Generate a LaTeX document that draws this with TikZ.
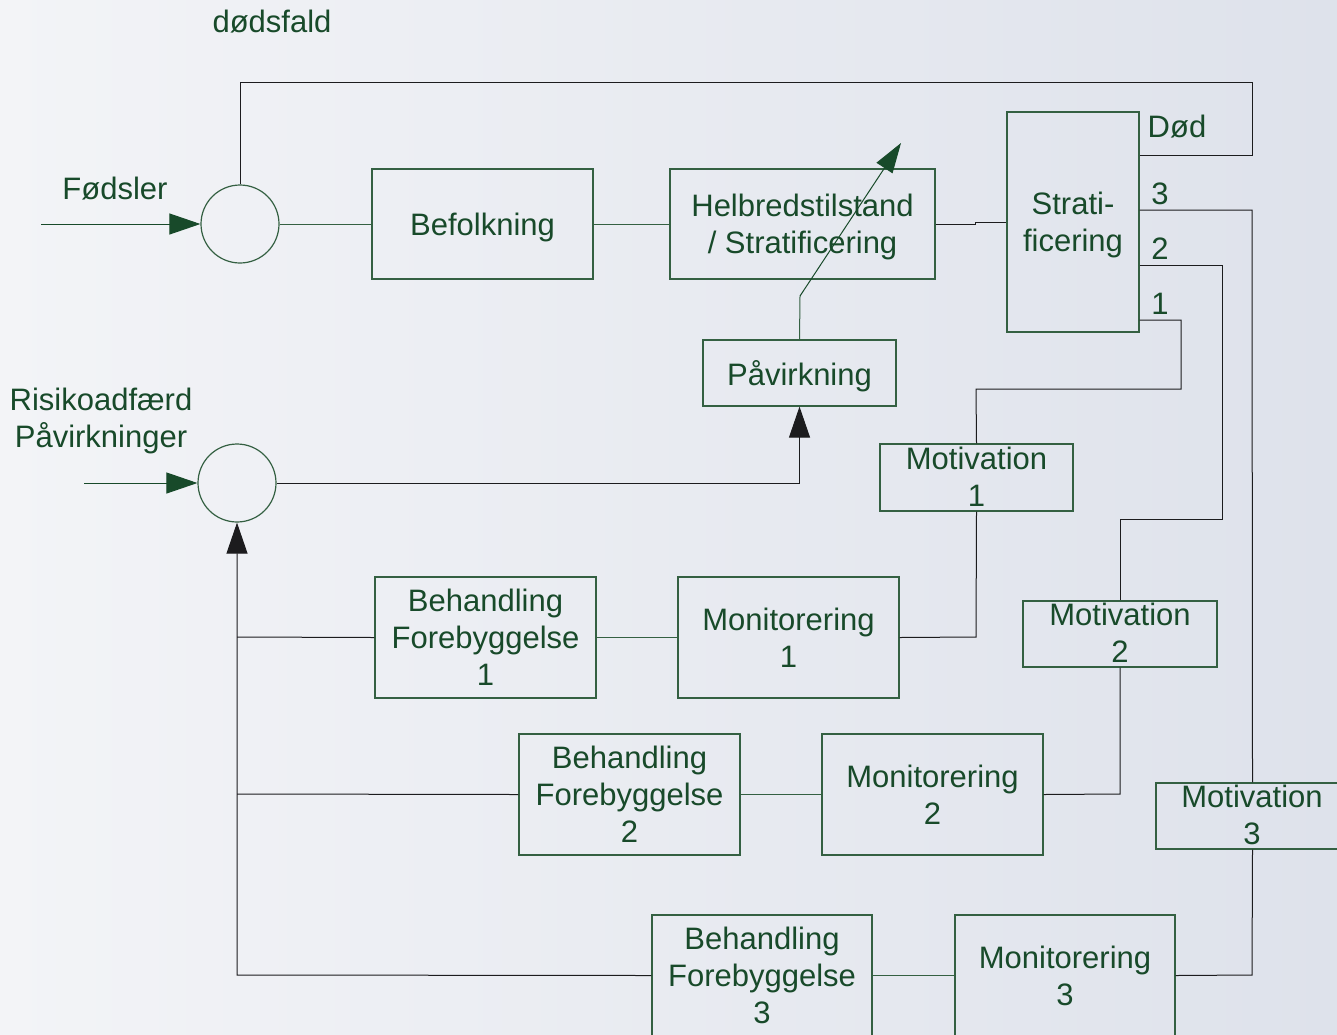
\documentclass[tikz,border=0pt]{standalone}
\usepackage{fontspec}
\setmainfont{Liberation Sans}
\usetikzlibrary{arrows.meta}

\definecolor{groen}{RGB}{24,74,42}
\definecolor{kant}{RGB}{52,96,66}
\definecolor{sort}{RGB}{28,28,30}
\definecolor{bgvenstre}{RGB}{243,244,247}
\definecolor{bghoejre}{RGB}{222,226,235}

\begin{document}
\begin{tikzpicture}[x=1pt,y=-1pt,
    font=\fontsize{31}{37}\selectfont, text=groen]
        \tikzstyle{blok}=[draw=kant, line width=1.2pt, inner sep=0pt, align=center];
        \tikzstyle{sum}=[draw=kant, line width=1.2pt, shape=circle, minimum size=78pt, inner sep=0pt];
        \tikzstyle{tekst}=[inner sep=0pt, align=center];
        \tikzstyle{frem}=[draw=kant, line width=1pt];
        \tikzstyle{tilbage}=[draw=sort, line width=1pt];
        \tikzstyle{gpil}=[-{Triangle[length=31pt,width=21pt]}, groen];
        \tikzstyle{spil}=[-{Triangle[length=31pt,width=21pt]}, sort];
        \useasboundingbox (0,0) rectangle (1337,1034);
        \clip (0,0) rectangle (1337,1034);
        \fill[left color=bgvenstre, right color=bghoejre] (0,0) rectangle (1337,1034);

        % input
        \node[sum] (sum1) at (240,224) {};
        \node[sum] (sum2) at (237,483) {};
        \node[tekst] (foed) at (115,189) {Fødsler};
        \node[tekst] (doed) at (272,22) {dødsfald};
        \node[tekst] (risiko) at (101,421) {Risikoadfærd\\Påvirkninger};
        \coordinate (ind1) at (41,224);
        \coordinate (ind2) at (84,483);

        % hovedkaede
        \node[blok, minimum width=221pt, minimum height=110pt] (befolk) at (482.5,224) {};
        \node[tekst] (befolkt) at (482.5,227) {Befolkning};
        \node[blok, minimum width=265pt, minimum height=110pt] (helbred) at (802.5,224) {};
        \node[tekst] (helbredt) at (802.5,226.5) {Helbredstilstand\\/ Stratificering};
        \node[blok, minimum width=132pt, minimum height=220pt] (strat) at (1073,222) {};
        \node[tekst] (stratt) at (1073,224.5) {Strati-\\ficering};
        \node[blok, minimum width=193pt, minimum height=66pt] (paavirk) at (799.5,373) {};
        \node[tekst] (paavirkt) at (799.5,376) {Påvirkning};
        \node[tekst] (doedlbl) at (1177,127) {Død};
        \node[tekst] (ud3) at (1160,194) {3};
        \node[tekst] (ud2) at (1160,249) {2};
        \node[tekst] (ud1) at (1160,304) {1};

        % motivation
        \node[blok, minimum width=193pt, minimum height=67pt] (mot1) at (976.5,477.5) {};
        \node[tekst] (mot1t) at (976.5,477) {Motivation\\1};
        \node[blok, minimum width=194pt, minimum height=66pt] (mot2) at (1120,634) {};
        \node[tekst] (mot2t) at (1120,633) {Motivation\\2};
        \node[blok, minimum width=193pt, minimum height=66pt] (mot3) at (1252.5,816) {};
        \node[tekst] (mot3t) at (1252,815) {Motivation\\3};

        % monitorering og behandling
        \node[blok, minimum width=221pt, minimum height=121pt] (mon1) at (788.5,637.5) {Monitorering\\1};
        \node[blok, minimum width=221pt, minimum height=121pt] (beh1) at (485.5,637.5) {Behandling\\Forebyggelse\\1};
        \node[blok, minimum width=221pt, minimum height=121pt] (mon2) at (932.5,794.5) {Monitorering\\2};
        \node[blok, minimum width=221pt, minimum height=121pt] (beh2) at (629.5,794.5) {Behandling\\Forebyggelse\\2};
        \node[blok, minimum width=220pt, minimum height=121pt] (mon3) at (1065,975.5) {Monitorering\\3};
        \node[blok, minimum width=220pt, minimum height=121pt] (beh3) at (762,975.5) {Behandling\\Forebyggelse\\3};

        % forbindelser
        \draw[frem, gpil] (ind1) -- (sum1.west);
        \draw[frem, gpil] (ind2) -- (sum2.west);
        \draw[frem] (sum1.east) -- (befolk.west);
        \draw[frem] (befolk.east) -- (helbred.west);
        \draw[tilbage] (helbred.east) -- (975,224) -- (975,222) -- (strat.west);
        \draw[tilbage] (sum1.north) -- (240,82) -- (1252,82) -- (1252,155) -- (strat.east |- 0,155);
        \draw[tilbage, spil] (sum2.east) -- (paavirk.south |- sum2.east) -- (paavirk.south);
        \coordinate (knaek) at (800,296);
        \coordinate (spids) at (901,143);
        \draw[frem] (paavirk.north) -- (knaek);
        \draw[frem, -{Triangle[length=30pt,width=19pt]}, groen] (knaek) -- (spids);

        \draw[tilbage] (strat.east |- 0,210) -- (1252,210) -- (mot3.north);
        \draw[tilbage] (strat.east |- 0,265) -- (1222,265) -- (1222,519) -- (1120,519) -- (mot2.north);
        \draw[tilbage] (strat.east |- 0,320) -- (1181,320) -- (1181,389) -- (976,389) -- (mot1.north);

        \draw[tilbage] (mot1.south) -- (976,637) -- (mon1.east);
        \draw[tilbage] (mot2.south) -- (1120,794) -- (mon2.east);
        \draw[tilbage] (mot3.south) -- (1252,975) -- (mon3.east);
        \draw[frem] (mon1.west) -- (beh1.east);
        \draw[frem] (mon2.west) -- (beh2.east);
        \draw[frem] (mon3.west) -- (beh3.east);
        \draw[tilbage] (beh1.west) -- (237,637);
        \draw[tilbage] (beh2.west) -- (237,794);
        \draw[tilbage, spil] (beh3.west) -- (237,975) -- (sum2.south);
\end{tikzpicture}
\end{document}
